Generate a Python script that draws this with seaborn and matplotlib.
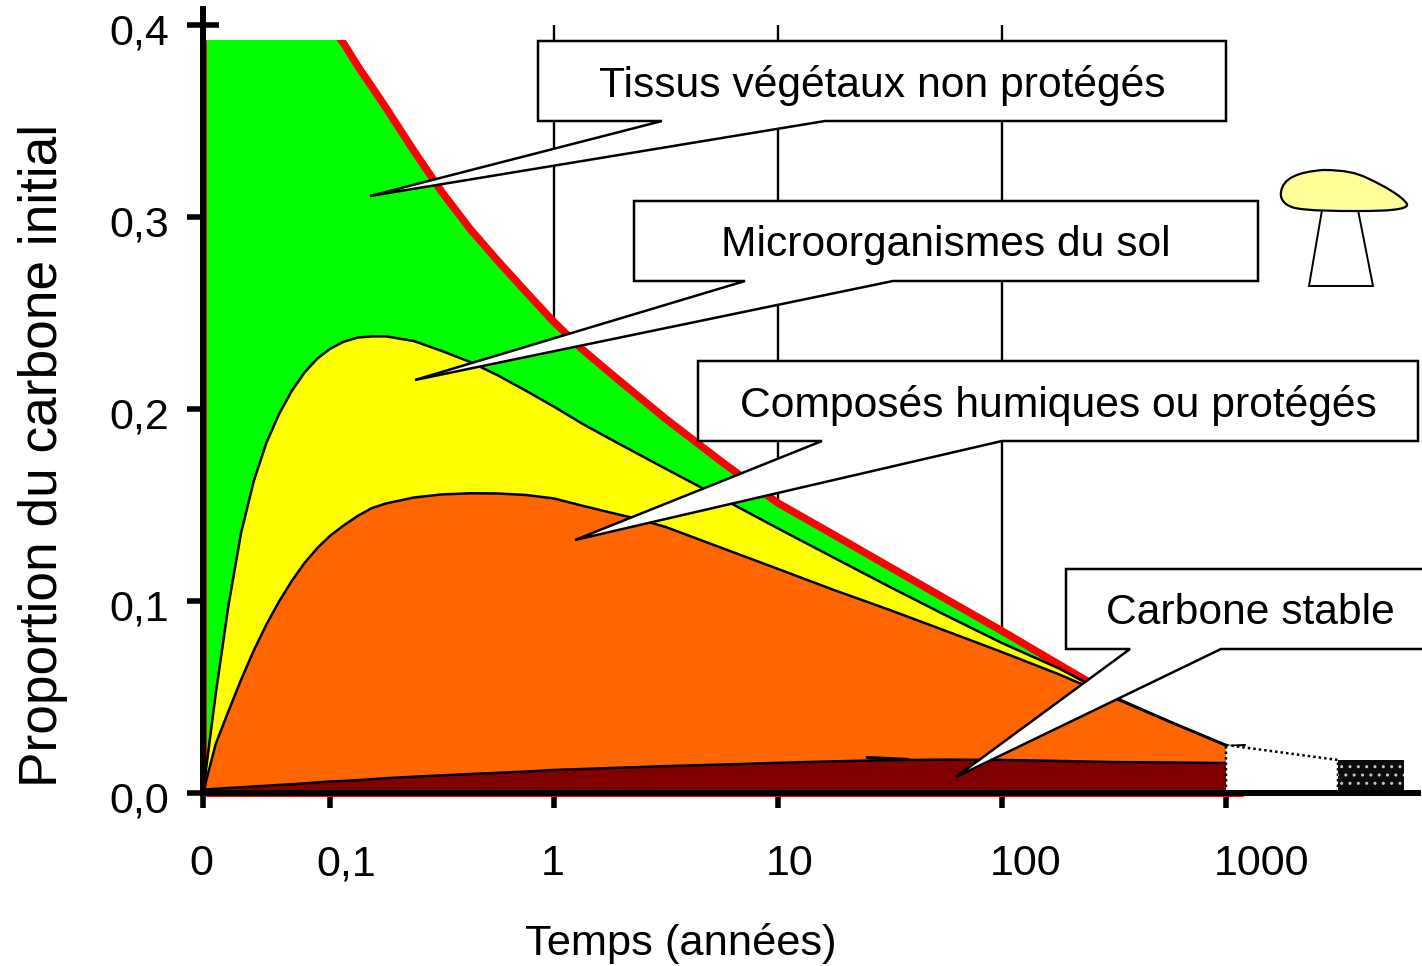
import numpy as np
import pandas as pd
import matplotlib
matplotlib.use("Agg")
import matplotlib.pyplot as plt
import seaborn as sns
from matplotlib.patches import Polygon, PathPatch, Rectangle
from matplotlib.path import Path
from matplotlib.ticker import NullLocator
from matplotlib.transforms import Affine2D, ScaledTranslation

# -----------------------------
# 1. Data
# -----------------------------
temps = [0, 0.01, 0.02, 0.03, 0.04, 0.05, 0.06, 0.07, 0.08, 0.09, 0.1,
         0.115, 0.133, 0.154, 0.178, 0.237, 0.316, 0.422, 0.562, 0.75, 1, 1.33, 1.78, 2.37, 3.16, 5.62,
         10, 17.8, 31.6, 56.2, 100, 178, 316, 562, 1000]

total = [0.40, 0.40, 0.40, 0.40, 0.40, 0.40, 0.40, 0.40, 0.40, 0.40, 0.40,
         0.3905, 0.3786, 0.3677, 0.3568, 0.3344, 0.3130, 0.2938, 0.2771, 0.261, 0.2453, 0.2313, 0.2188, 0.2068, 0.1948, 0.1724,
         0.151, 0.1344, 0.1177, 0.101, 0.0844, 0.0672, 0.0502, 0.0372, 0.025]

microorganismes = [0, 0.0516, 0.0975, 0.1355, 0.1625, 0.1825, 0.1975, 0.2095, 0.219, 0.2262, 0.2313,
                   0.235, 0.2372, 0.2378, 0.2378, 0.2354, 0.2302, 0.2245, 0.2175, 0.2095, 0.2012, 0.1925, 0.1844, 0.1766, 0.1688, 0.1534,
                   0.1378, 0.1225, 0.1073, 0.0925, 0.0781, 0.0651, 0.05, 0.0372, 0.025]

humiques = [0, 0.0255, 0.0425, 0.059, 0.0742, 0.0878, 0.0998, 0.1105, 0.1198, 0.1275, 0.1339,
            0.1393, 0.1443, 0.1484, 0.1508, 0.1539, 0.1555, 0.1561, 0.156, 0.1552, 0.1534, 0.1497, 0.1461, 0.1427, 0.1385, 0.1276,
            0.1167, 0.1057, 0.0953, 0.0844, 0.0734, 0.062, 0.0495, 0.037, 0.0247]

stable = [0.0018, 0.0022, 0.0026, 0.003, 0.0034, 0.0038, 0.0042, 0.0046, 0.005, 0.0055, 0.006,
          0.0063, 0.0067, 0.0072, 0.0077, 0.0085, 0.0092, 0.0099, 0.0105, 0.0112, 0.012, 0.0125, 0.013, 0.0135, 0.014, 0.0148,
          0.0157, 0.0165, 0.0171, 0.0174, 0.0172, 0.0167, 0.0161, 0.0159, 0.0156]

plafond = 0.392
t_reste = [1000, 3162, 3162, 1000, 1000]
y_reste = [0.025, 0.0172, 0, 0, 0.025]
t_noir = [3162, 6237]
y_noir = 0.0172
t_trait = [25, 38]
y_trait = [0.0185, 0.0175]

xticks = [0, 0.1, 1, 10, 100, 1000]
xlabels = ["0", "0,1", "1", "10", "100", "1000"]
yticks = [0, 0.1, 0.2, 0.3, 0.4]
ylabels = ["0,0", "0,1", "0,2", "0,3", "0,4"]
grille = [1, 10, 100]

etiquettes = ["Tissus végétaux non protégés", "Microorganismes du sol",
              "Composés humiques ou protégés", "Carbone stable"]

# -----------------------------
# 2. Figure and axes
# -----------------------------
W, H, DPI = 1422, 966, 100
sns.set_theme(style="ticks")
plt.rcParams["font.family"] = ["Liberation Sans", "DejaVu Sans"]

fig = plt.figure(figsize=(W / DPI, H / DPI), dpi=DPI)
ax = fig.add_axes([203 / W, 1 - 793 / H, 1215 / W, 784 / H])
ax.set_xscale("symlog", linthresh=0.1, linscale=0.51)
ax.set_xlim(0, 7197)
ax.set_ylim(0, 0.4083)

px = Affine2D().scale(1 / W, -1 / H).translate(0, 1) + fig.transFigure
decal = lambda dx, dy: ScaledTranslation(dx / DPI, -dy / DPI, fig.dpi_scale_trans)

# -----------------------------
# 3. Areas and curves
# -----------------------------
df = pd.DataFrame({"temps": temps, "total": total, "micro": microorganismes,
                   "humiques": humiques, "stable": stable})

ax.vlines(grille, 0, 0.4, color="black", lw=1.7, zorder=0.5)

toit = Rectangle((0, -0.05), 10000, plafond + 0.05, transform=ax.transData)
vert = ax.fill_between(df["temps"], 0, df["total"], color="#00FF00", lw=0, zorder=1)
vert.set_clip_path(toit)
ax.fill_between(df["temps"], 0, df["micro"], color="#FFFF00", lw=0, zorder=1.1)
ax.fill_between(df["temps"], 0, df["humiques"], color="#FF6600", lw=0, zorder=1.2)
ax.fill_between(df["temps"], 0, df["stable"], color="#800000", lw=0, zorder=1.3)

# red outline of the whole pool (curve, left edge, bottom edge)
rouge = df[(df["temps"] >= 0.1) & (df["temps"] <= 316)]
sns.lineplot(data=rouge, x="temps", y="total", ax=ax, color="#FF0000", lw=5.4,
             estimator=None, sort=False, legend=False, zorder=1.5)
ax.lines[-1].set_clip_path(toit)
ax.plot([0, 0], [0, plafond], color="#FF0000", lw=5, clip_on=False, zorder=1.5, solid_capstyle="butt")
ax.plot([0, 1190], [0, 0], color="#FF0000", lw=5, clip_on=False, zorder=1.5, solid_capstyle="butt")

for col in ["micro", "humiques", "stable"]:
    sns.lineplot(data=df, x="temps", y=col, ax=ax, color="black", lw=1.8,
                 estimator=None, sort=False, legend=False, zorder=1.8)
sns.lineplot(x=t_trait, y=y_trait, ax=ax, color="black", lw=2.2, estimator=None, sort=False,
             legend=False, zorder=1.8)
ax.plot([1000, 1216], [0.0245, 0.025], color="black", lw=1.5, zorder=1.8)

# end of the curve: dotted block and stippled stable carbon
ax.fill(t_reste, y_reste, facecolor="white", edgecolor="black", lw=1.8, ls=(0, (1, 1.2)),
        zorder=1.9, clip_on=False)
ax.fill_between(t_noir, 0, y_noir, facecolor="#0c0c0c", edgecolor="#c8c8c8", hatch="..",
                lw=0, zorder=1.9)

# -----------------------------
# 4. Axes
# -----------------------------
sns.despine(ax=ax)
ax.spines["left"].set_linewidth(4.3)
ax.spines["bottom"].set_linewidth(4.3)
ax.spines["left"].set_color("black")
ax.spines["bottom"].set_color("black")
ax.set_xticks(xticks, xlabels)
ax.set_yticks(yticks, ylabels)
ax.xaxis.set_minor_locator(NullLocator())
ax.yaxis.set_minor_locator(NullLocator())
ax.tick_params(axis="x", direction="out", length=10.8, width=4, labelsize=31, pad=26, colors="black")
ax.tick_params(axis="y", direction="inout", length=23, width=4, labelsize=31, pad=13, colors="black")

for lab, dx in zip(ax.get_xticklabels(), [-2, 16, -1, 12, 24, 36]):
    lab.set_transform(lab.get_transform() + decal(dx, 0))
for lab in ax.get_yticklabels():
    lab.set_transform(lab.get_transform() + decal(0, 4))

ax.set_xlabel("Temps (années)", fontsize=31.2, color="black", va="center")
ax.xaxis.set_label_coords((681 - 203) / 1215, -(943 - 793) / 784)
ax.set_ylabel("Proportion du carbone initial", fontsize=38.3, color="black", va="center")
ax.yaxis.set_label_coords((43 - 203) / 1215, (793 - 455) / 784)

# -----------------------------
# 5. Callouts and mushroom (image pixels)
# -----------------------------
bulles = [
    [(538, 41), (1226, 41), (1226, 121), (825, 121), (370, 196), (662, 121), (538, 121)],
    [(634, 201), (1258, 201), (1258, 281), (893, 281), (415, 380), (745, 281), (634, 281)],
    [(698, 361), (1418, 361), (1418, 441), (1002, 441), (575, 540), (822, 441), (698, 441)],
    [(1066, 569), (1432, 569), (1432, 649), (1221, 649), (956, 777), (1130, 649), (1066, 649)],
]
centres = [(882, 85), (946, 245), (1058, 405), (1250, 613)]

for bulle, texte, (cx, cy) in zip(bulles, etiquettes, centres):
    fig.add_artist(Polygon(bulle, closed=True, facecolor="white", edgecolor="black", lw=1.8,
                           transform=px, joinstyle="miter"))
    fig.text(cx, cy, texte, transform=px, fontsize=30.7, ha="center", va="center", color="black")

pied = Polygon([(1322, 210), (1309, 286), (1373, 286), (1358, 210)], closed=True,
               facecolor="white", edgecolor="black", lw=1.4, transform=px)
fig.add_artist(pied)
chapeau = Path(
    [(1281, 192), (1283, 178), (1298, 172), (1323, 170), (1345, 170), (1357, 173), (1367, 178),
     (1385, 186), (1403, 197), (1407, 204), (1409, 210), (1385, 211), (1360, 211),
     (1335, 211), (1310, 211), (1295, 208), (1283, 205), (1280, 198), (1281, 192)],
    [Path.MOVETO] + [Path.CURVE4] * 18)
fig.add_artist(PathPatch(chapeau, facecolor="#FFFF99", edgecolor="black", lw=1.6, transform=px))

fig.savefig("out.png", dpi=DPI)
